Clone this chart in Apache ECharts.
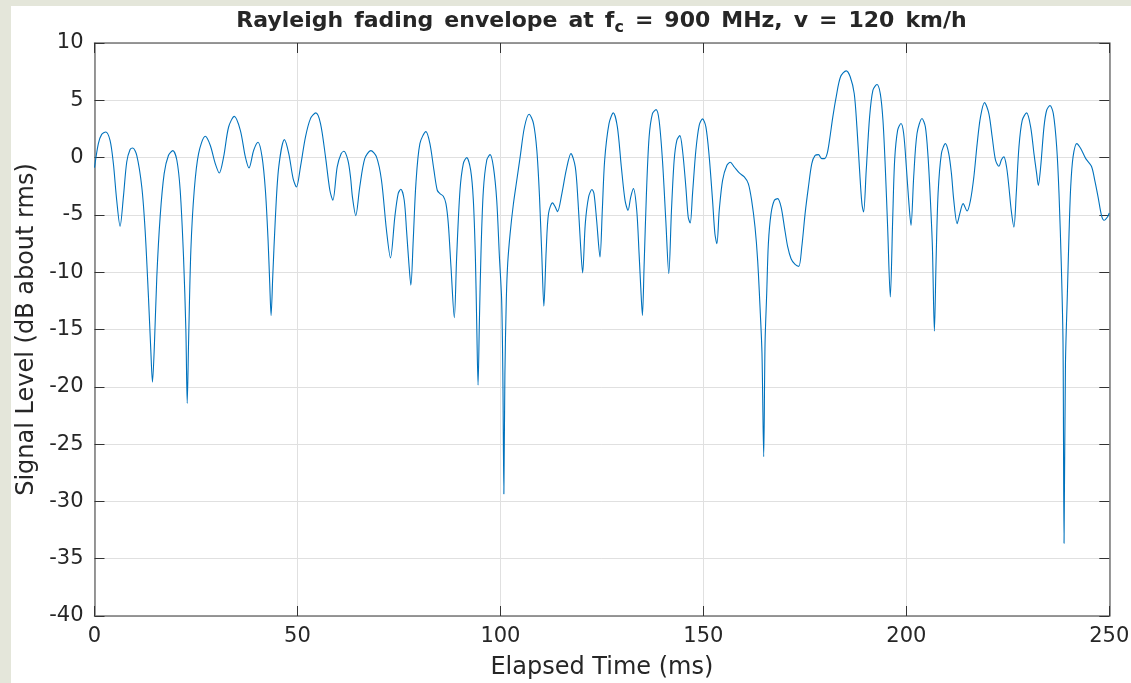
<!DOCTYPE html>
<html>
  <head>
    <meta charset="utf-8" />
    <title>Rayleigh fading envelope</title>
    <script src="https://cdn.jsdelivr.net/npm/echarts@6/dist/echarts.min.js"></script>
    <style>
      body { margin: 0; background: #e4e6da; }
      #main {
        position: absolute; left: 11px; top: 6px;
        width: 1120px; height: 677px; background: #ffffff;
      }
    </style>
  </head>
  <body>
    <div id="main"></div>
    <script type="text/javascript">
      // values (ms, dB about rms)
      var timeMs = [
        0, 0.95, 1.77, 2.76, 3.83, 4.65, 5.47, 6.30, 7.12, 7.94, 8.77, 9.42, 10.41, 11.65, 12.47, 13.29, 13.87, 14.28, 14.77, 15.35,
        16.17, 17.16, 18.23, 19.30, 20.29, 21.11, 21.93, 22.51, 22.84, 23.17, 23.74, 24.57, 25.64, 27.28, 28.51, 29.75, 30.74, 31.81,
        33.04, 34.44, 35.93, 37.16, 38.07, 39.22, 40.29, 41.28, 42.10, 42.76, 43.17, 43.50, 43.91, 44.57, 45.39, 46.79, 47.86, 48.93,
        49.75, 50.74, 51.98, 53.21, 54.53, 55.68, 56.91, 57.98, 58.72, 59.79, 60.78, 61.44, 62.42, 63.07,
        63.54, 64.36, 65.35, 66.58, 68.07, 69.47, 70.70, 71.93, 72.92, 73.99, 74.81, 75.47, 76.30, 76.87, 77.45, 77.94, 78.52, 79.18,
        80.16, 81.65, 82.63, 83.62, 84.44, 85.10, 85.93, 86.58, 87.16, 87.82, 88.64, 89.22, 90.04, 90.86, 91.69, 92.67, 93.33, 93.83,
        94.16, 94.49, 94.81, 95.23, 95.80, 96.63, 97.45, 98.27, 99.09, 99.75, 100.3, 100.6, 100.85, 101.1, 101.45, 101.8, 102.39,
        103.21, 104.03, 104.86, 105.93, 107.08, 108.15, 108.97, 109.63, 110.21, 110.70, 111.28, 111.85, 112.84, 113.50, 114.07,
        115.14, 116.21, 117.37, 118.44, 119.10, 119.67, 120.25, 120.91, 121.73, 122.55,
        123.05, 123.70, 124.53, 125.10, 125.68, 126.75, 127.82, 128.81, 129.79, 130.70, 131.44, 132.10, 132.76, 133.58, 134.16,
        134.57, 134.98, 135.39, 135.97, 136.63, 137.45, 138.35, 139.09, 139.92, 140.74, 141.48, 142.14, 142.80, 143.46, 144.20,
        144.86, 145.68, 146.26, 146.75, 147.33, 148.15, 148.97, 149.79, 150.62, 151.44, 152.26, 152.84, 153.33, 153.91, 154.73,
        155.80, 156.63, 157.61, 158.85, 160.08, 161.07, 161.89, 162.72, 163.37, 164.03, 164.44, 164.86, 165.19, 165.60, 166.01,
        166.67, 167.49, 168.31, 169.14, 169.96, 170.78, 171.60, 172.59, 173.50, 174.24, 175.06, 175.88, 176.71, 177.53, 178.35,
        179.18, 179.84, 180.49, 181.07, 181.89, 182.72, 183.79, 185.19,
        186.17, 187.16, 187.82, 188.48, 189.05, 189.47, 190.12, 190.95, 191.77, 192.76, 193.58, 194.24, 194.81, 195.39, 196.05,
        196.63, 197.12, 197.86, 198.68, 199.34, 200.0, 200.58, 201.15, 201.81, 202.63, 203.87, 204.69, 205.35, 205.93, 206.42,
        206.91, 207.33, 207.82, 208.64, 209.63, 210.45, 211.11, 211.69, 212.51, 213.17, 213.99, 214.97, 215.80, 216.63, 217.45,
        218.27, 219.26, 220.33, 221.15, 221.97, 222.80, 223.46, 224.03, 224.69, 225.27, 225.84, 226.50, 227.08, 227.74, 228.56,
        229.63, 230.62, 231.44, 232.10, 232.51, 233.09, 233.91, 234.57, 235.39, 236.21, 237.04, 237.61, 238.19, 238.60, 238.85,
        239.2, 239.67, 240.08, 240.49, 241.07, 241.98, 242.96, 244.20, 245.60, 246.42, 247.24, 248.07, 248.72, 249.55, 250.0
      ];
      var levelDb = [
        -0.87, 1.22, 2.03, 2.24, 1.51, -0.52, -3.72, -5.99, -3.43, -0.38, 0.70, 0.84, 0.20, -2.56, -6.34, -12.15, -16.80, -19.59, -16.22, -10.41,
        -5.17, -1.40, 0.20, 0.61, -0.23, -2.85, -8.66, -15.06, -21.45, -16.22, -8.08, -2.85, 0.35, 1.86, 1.08, -0.52, -1.34, 0.06,
        2.67, 3.60, 2.38, 0.06, -0.90, 0.64, 1.34, 0.06, -2.85, -7.21, -10.99, -13.78, -10.41, -5.17, -0.81, 1.57, 0.35, -1.83,
        -2.56, -0.81, 1.80, 3.40, 3.90, 2.97, 0.06, -2.85, -3.72, -0.81, 0.35, 0.55, -0.23, -1.69,
        -3.43, -5.06, -2.56, -0.09, 0.61, 0.06, -1.98, -6.34, -8.75, -5.17, -3.14, -2.76, -3.72, -6.34, -9.24, -11.13, -7.21, -2.27,
        1.22, 2.27, 1.22, -1.10, -2.85, -3.14, -3.37, -4.01, -5.76, -9.53, -13.98, -8.66, -2.85, -0.52, 0.0, -1.10, -3.72, -8.66,
        -14.48, -19.85, -14.48, -8.08, -2.85, -0.23, 0.26, -0.81, -3.72, -8.66, -12.4, -19.0, -29.35, -19.0, -12.4, -9.2, -6.63,
        -4.01, -1.98, 0.06, 2.67, 3.78, 2.97, 0.64, -3.43, -8.66, -12.97, -8.08, -4.88, -3.95, -4.30, -4.71,
        -3.14, -1.10, 0.35, -0.81, -3.72, -7.21, -10.06, -5.76, -3.43, -2.79,
        -3.14, -5.47, -8.68, -4.60, -0.23, 2.97, 3.90, 2.68, -0.82, -3.73, -4.60, -3.44, -2.71, -4.60, -8.38,
        -11.30, -13.77, -9.55, -3.14, 1.80, 3.84, 4.19, 3.26, -0.23, -5.47, -10.13, -4.60, -0.23, 1.51, 1.92,
        0.64, -2.56, -5.18, -5.71, -3.14, 0.64, 2.82, 3.38, 2.68, 0.06, -3.73, -6.64, -7.51, -4.60, -1.98,
        -0.67, -0.41, -0.82, -1.34, -1.69, -2.27, -3.73, -6.06, -8.97, -13.62, -17.12, -26.1, -16.24, -11.88, -7.51,
        -4.89, -3.73, -3.58, -4.31, -6.06, -7.80, -8.82, -9.32, -9.49, -7.80, -4.89, -2.56, -0.52, 0.20, 0.26,
        -0.09, -0.09, 0.35, 1.51, 3.55, 5.30, 7.05, 7.57,
        7.05, 5.59, 2.68, -1.11, -4.02, -4.75, -1.11, 3.55, 5.88, 6.38, 5.59, 3.26, -0.82, -6.06, -12.17,
        -5.47, -0.23, 2.39, 2.97, 2.10, -0.82, -3.73, -5.91, -1.69, 2.10, 3.41, 2.68, 0.06, -3.73, -7.80,
        -15.14, -8.97, -3.14, 0.35, 1.22, 0.35, -1.40, -3.73, -5.76, -4.89, -4.02, -4.66, -3.73, -1.69, 1.22,
        3.55, 4.80, 3.84, 1.80, -0.23, -0.76, -0.17, 0.06, -0.82, -2.56, -4.60, -6.06, -3.14, 0.93, 3.26,
        3.90, 2.68, 0.35, -1.40, -2.42, -0.82, 2.68, 4.13, 4.54, 3.84, 0.93, -3.14, -9.55, -16.24, -33.66,
        -18.0, -11.88, -6.64, -2.56, 0.06, 1.22, 0.79, -0.09, -0.76, -1.98, -3.44, -5.04, -5.47, -5.18, -4.83
      ];
      var xTicks = [0, 250, 50];   // min, max, step
      var yTicks = [-40, 10, 5];

      var font = "DejaVu Sans";
      var sp = "\u2002";
      var pts = [];
      for (var i = 0; i < timeMs.length; i++) {
        pts.push([timeMs[i], levelDb[i]]);
      }

      var chart = echarts.init(document.getElementById("main"), null, { renderer: "canvas" });

      var axisLine = { show: true, onZero: false, lineStyle: { color: "#777", width: 1.5 } };
      var tick = { show: true, inside: true, length: 10, lineStyle: { color: "#333", width: 1 } };

      var option = {
        animation: false,
        backgroundColor: "#ffffff",
        title: {
          text: ["Rayleigh", "fading", "envelope", "at", "f{sub|c}", "=", "900", "MHz,", "v", "=", "120", "km/h"].join(sp),
          left: 590.5,
          textAlign: "center",
          top: 0,
          padding: 0,
          textStyle: {
            fontFamily: font,
            fontSize: 22,
            fontWeight: "bold",
            color: "#262626",
            rich: {
              sub: { fontFamily: font, fontSize: 16, fontWeight: "bold", color: "#262626", padding: [14, 0, 0, 0] }
            }
          }
        },
        grid: { left: 83.5, top: 37, right: 21.7, bottom: 67, containLabel: false, outerBoundsMode: "none" },
        xAxis: [
          {
            type: "value",
            min: xTicks[0],
            max: xTicks[1],
            interval: xTicks[2],
            position: "bottom",
            name: "Elapsed Time (ms)",
            nameLocation: "middle",
            nameGap: 40,
            nameTextStyle: { fontFamily: font, fontSize: 24, color: "#262626" },
            axisLine: axisLine,
            axisTick: tick,
            axisLabel: { fontFamily: font, fontSize: 21, color: "#262626", margin: 10 },
            splitLine: { show: true, lineStyle: { color: "#e0e0e0", width: 1 } }
          },
          {
            type: "value",
            min: xTicks[0],
            max: xTicks[1],
            interval: xTicks[2],
            position: "top",
            axisLine: axisLine,
            axisTick: tick,
            axisLabel: { show: false },
            splitLine: { show: false }
          }
        ],
        yAxis: [
          {
            type: "value",
            min: yTicks[0],
            max: yTicks[1],
            interval: yTicks[2],
            position: "left",
            name: "Signal Level (dB about rms)",
            nameLocation: "middle",
            nameGap: 54,
            nameRotate: 90,
            nameTextStyle: { fontFamily: font, fontSize: 24, color: "#262626" },
            axisLine: axisLine,
            axisTick: tick,
            axisLabel: { fontFamily: font, fontSize: 21, color: "#262626", margin: 11 },
            splitLine: { show: true, lineStyle: { color: "#e0e0e0", width: 1 } }
          },
          {
            type: "value",
            min: yTicks[0],
            max: yTicks[1],
            interval: yTicks[2],
            position: "right",
            axisLine: axisLine,
            axisTick: tick,
            axisLabel: { show: false },
            splitLine: { show: false }
          }
        ],
        series: [
          {
            type: "line",
            data: pts,
            showSymbol: false,
            smooth: 0.3,
            lineStyle: { color: "#0072BD", width: 1.1 },
            itemStyle: { color: "#0072BD" }
          }
        ]
      };

      chart.setOption(option);
    </script>
  </body>
</html>
